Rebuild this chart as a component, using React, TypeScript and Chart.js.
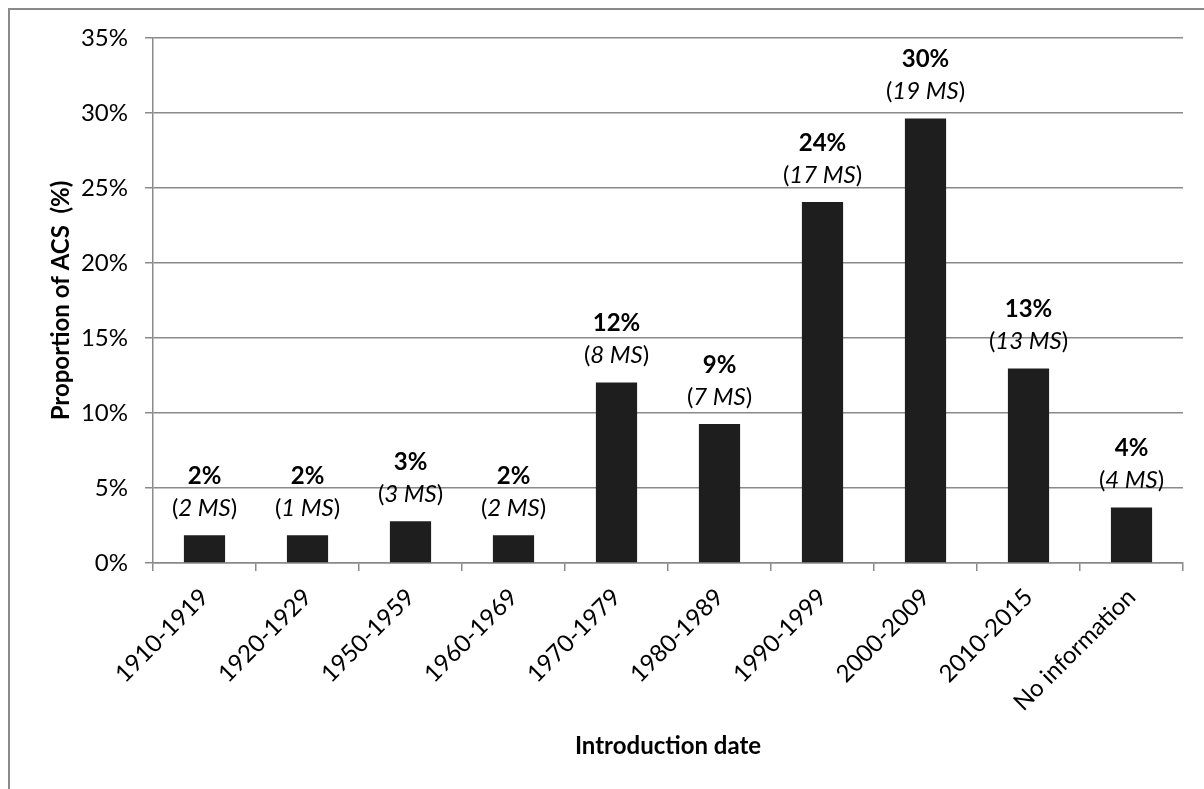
import React, { useEffect, useRef } from "react";
import { Chart, registerables } from "chart.js";

Chart.register(...registerables);

// Introduction date groups (x axis)
const categories = [
  "1910-1919",
  "1920-1929",
  "1950-1959",
  "1960-1969",
  "1970-1979",
  "1980-1989",
  "1990-1999",
  "2000-2009",
  "2010-2015",
  "No information",
];

// Proportion of ACS per group, in percent
const shares = [1.85, 1.85, 2.78, 1.85, 12.04, 9.26, 24.07, 29.63, 12.96, 3.7];

// Number of member states per group
const memberStates = [2, 1, 3, 2, 8, 7, 17, 19, 13, 4];

// Value axis range and step, in percent
const yMin = 0;
const yMax = 35;
const yStep = 5;

const FONT = "Lato, 'Open Sans', sans-serif";
const SIZE = 24;
const GRID = "#8a8a8a";

// Two-line label above each bar: bold share, then "(n MS)" with italic inner text
const barLabels = {
  id: "barLabels",
  afterDatasetsDraw(chart: any) {
    const ctx = chart.ctx as CanvasRenderingContext2D;
    const meta = chart.getDatasetMeta(0);
    ctx.save();
    ctx.fillStyle = "#000";
    ctx.textBaseline = "middle";
    meta.data.forEach((bar: any, i: number) => {
      const { x, y } = bar.getProps(["x", "y"], true);
      ctx.font = `bold ${SIZE}px ${FONT}`;
      ctx.textAlign = "center";
      ctx.fillText(`${Math.round(shares[i])}%`, x, y - 59);

      const lineY = y - 27;
      const inner = `${memberStates[i]} MS`;
      ctx.font = `${SIZE}px ${FONT}`;
      const wOpen = ctx.measureText("(").width;
      const wClose = ctx.measureText(")").width;
      ctx.font = `italic ${SIZE}px ${FONT}`;
      const wInner = ctx.measureText(inner).width;
      let sx = x - (wOpen + wInner + wClose) / 2;
      ctx.textAlign = "left";
      ctx.font = `${SIZE}px ${FONT}`;
      ctx.fillText("(", sx, lineY);
      sx += wOpen;
      ctx.font = `italic ${SIZE}px ${FONT}`;
      ctx.fillText(inner, sx, lineY);
      sx += wInner;
      ctx.font = `${SIZE}px ${FONT}`;
      ctx.fillText(")", sx, lineY);
    });
    ctx.restore();
  },
};

export default function App() {
  const canvasRef = useRef<HTMLCanvasElement | null>(null);

  useEffect(() => {
    if (!canvasRef.current) return;
    const chart = new Chart(canvasRef.current, {
      type: "bar",
      data: {
        labels: categories,
        datasets: [
          {
            data: shares,
            backgroundColor: "#1e1e1e",
            borderWidth: 0,
            barPercentage: 0.4,
            categoryPercentage: 1,
          },
        ],
      },
      options: {
        responsive: false,
        animation: false,
        devicePixelRatio: 1,
        layout: { padding: { top: 38, right: 21, left: 0, bottom: 0 } },
        plugins: {
          legend: { display: false },
          tooltip: { enabled: false },
          title: { display: false },
        },
        scales: {
          x: {
            offset: true,
            grid: {
              display: true,
              offset: true,
              drawOnChartArea: false,
              drawTicks: true,
              tickLength: 8,
              color: GRID,
              lineWidth: 1.5,
            },
            border: { display: true, color: GRID, width: 1.5 },
            ticks: {
              autoSkip: false,
              minRotation: 45,
              maxRotation: 45,
              padding: 12,
              color: "#000",
              font: { family: FONT, size: SIZE },
            },
            title: {
              display: true,
              text: "Introduction date",
              color: "#000",
              font: { family: FONT, size: SIZE, weight: "bold" },
              padding: { top: 0, bottom: 28 },
            },
            afterFit: (scale: any) => {
              scale.height = 226;
            },
          },
          y: {
            min: yMin,
            max: yMax,
            grid: {
              color: GRID,
              lineWidth: 1.5,
              tickLength: 8,
              drawTicks: true,
            },
            border: { display: true, color: GRID, width: 1.5 },
            ticks: {
              stepSize: yStep,
              padding: 17,
              color: "#000",
              font: { family: FONT, size: SIZE },
              callback: (v: any) => `${v}%`,
            },
            title: {
              display: true,
              text: "Proportion of ACS  (%)",
              color: "#000",
              font: { family: FONT, size: SIZE, weight: "bold" },
              padding: { top: 47, bottom: 0 },
            },
            afterFit: (scale: any) => {
              scale.width = 153;
            },
          },
        },
      },
      plugins: [barLabels],
    });
    return () => chart.destroy();
  }, []);

  return (
    <div>
      <div
        style={{
          position: "absolute",
          left: 8,
          top: 8,
          width: 1196,
          height: 781,
          boxSizing: "border-box",
          borderLeft: `2px solid ${GRID}`,
          borderTop: `2px solid ${GRID}`,
        }}
      />
      <canvas
        ref={canvasRef}
        width={1204}
        height={789}
        style={{ position: "absolute", left: 0, top: 0, display: "block" }}
      />
    </div>
  );
}
